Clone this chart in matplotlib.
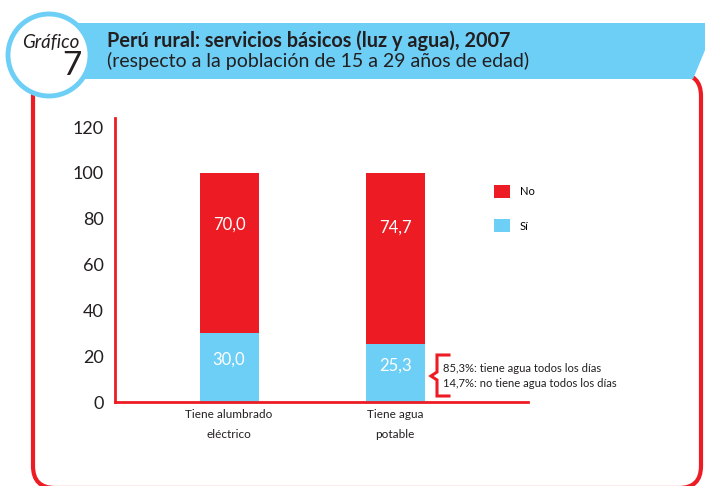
import matplotlib
matplotlib.use("Agg")
import matplotlib.pyplot as plt
from matplotlib.patches import FancyBboxPatch, Circle, Polygon

plt.rcParams['font.family'] = ['Lato', 'DejaVu Sans']

# data
categorias = ["Tiene alumbrado\neléctrico", "Tiene agua\npotable"]
si = [30.0, 25.3]
no = [70.0, 74.7]
yticks = [0, 20, 40, 60, 80, 100, 120]
nota_agua = ["85,3%: tiene agua todos los días", "14,7%: no tiene agua todos los días"]

ROJO = "#ED1C24"
CELESTE = "#6DCFF6"
TXT = "#231F20"

W, H = 705, 486
fig = plt.figure(figsize=(W / 100, H / 100), dpi=100)

# decoration layer in pixel coords
deco = fig.add_axes([0, 0, 1, 1], zorder=0)
deco.set_xlim(0, W)
deco.set_ylim(H, 0)
deco.axis("off")

marco = FancyBboxPatch((33, 74), 668, 414, boxstyle="round,pad=0,rounding_size=22",
                       fc="white", ec=ROJO, lw=3)
deco.add_patch(marco)
banda = Polygon([(60, 23), (708, 23), (708, 43), (693, 79), (60, 79)], closed=True,
                fc=CELESTE, ec="none")
deco.add_patch(banda)
deco.add_patch(Circle((49, 55), 41, fc="white", ec=CELESTE, lw=3.5))
deco.text(51, 43, "Gráfico", ha="center", va="center", fontsize=13.5, style="italic",
          color=TXT)
deco.text(82, 66, "7", ha="right", va="center", fontsize=24, color=TXT)
deco.text(107, 41, "Perú rural: servicios básicos (luz y agua), 2007", ha="left",
          va="center", fontsize=14.3, fontweight="bold", color=TXT)
deco.text(107, 61, "(respecto a la población de 15 a 29 años de edad)", ha="left",
          va="center", fontsize=14, color=TXT)

# bracket + note
deco.plot([449, 437, 437, 431, 437, 437, 449], [355, 355, 372, 376, 380, 396, 396],
          color=ROJO, lw=2.2, solid_joinstyle="miter")
deco.text(443, 368, nota_agua[0], ha="left", va="center", fontsize=8.1, color=TXT)
deco.text(443, 383, nota_agua[1], ha="left", va="center", fontsize=8.1, color=TXT)

# chart
ax = fig.add_axes([115 / W, 1 - 402 / H, 413 / W, 284 / H], zorder=1)
ax.patch.set_alpha(0)
x = [1, 2]
ancho = 0.355
b_no = ax.bar(x, no, ancho, bottom=si, color=ROJO, label="No")
b_si = ax.bar(x, si, ancho, color=CELESTE, label="Sí")

for xi, s, n in zip(x, si, no):
    ax.text(xi, s * 0.62, f"{s:.1f}".replace(".", ","), ha="center", va="center",
            color="white", fontsize=12)
    ax.text(xi, s + n * 0.68, f"{n:.1f}".replace(".", ","), ha="center", va="center",
            color="white", fontsize=12)

ax.set_xlim(0.313, 2.801)
ax.set_ylim(0, 124)
ax.set_yticks(yticks)
ax.set_xticks(x)
ax.set_xticklabels(categorias, fontsize=8.5, linespacing=2.0, color=TXT)
ax.tick_params(axis="y", length=0, pad=8, labelsize=13, labelcolor=TXT)
ax.tick_params(axis="x", length=0, pad=5)
for s in ["top", "right"]:
    ax.spines[s].set_visible(False)
for s in ["left", "bottom"]:
    ax.spines[s].set_color(ROJO)
    ax.spines[s].set_linewidth(2)

ax.legend(handles=[b_no, b_si], loc="upper left", bbox_to_anchor=(494 / W, 1 - 185 / H),
          bbox_transform=fig.transFigure, frameon=False, fontsize=8,
          handlelength=1.4, handleheight=1.4, labelspacing=1.95, handletextpad=0.9,
          borderpad=0, borderaxespad=0)

fig.savefig("out.png", dpi=100)
